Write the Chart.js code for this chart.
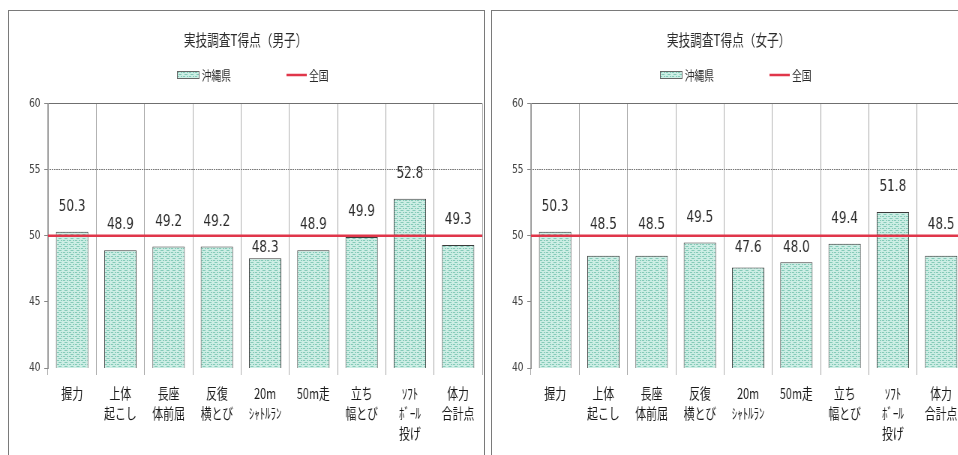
<!DOCTYPE html>
<html lang="ja">
<head>
<meta charset="utf-8">
<script src="https://cdn.jsdelivr.net/npm/chart.js@4.4.1/dist/chart.umd.min.js"></script>
<style>
  html, body { margin: 0; padding: 0; background: #fff; overflow: hidden; }
  body { width: 958px; height: 455px; position: relative; }
  .panel { position: absolute; top: 10px; height: 470px; border: 1px solid #7a7a7a; overflow: hidden; background: #fff; }
  #boysPanel { left: 8px; width: 475px; }
  #girlsPanel { left: 491px; width: 500px; }
  .panel canvas { position: absolute; left: 0; top: 0; transform: scaleX(0.75); transform-origin: 0 0; }
</style>
</head>
<body>
<div class="panel" id="boysPanel"><canvas id="boysChart" width="632" height="450"></canvas></div>
<div class="panel" id="girlsPanel"><canvas id="girlsChart" width="632" height="450"></canvas></div>
<script>
const categories = [
    ['握力'], ['上体', '起こし'], ['長座', '体前屈'], ['反復', '横とび'],
    ['20m', 'ｼｬﾄﾙﾗﾝ'], ['50m走'], ['立ち', '幅とび'], ['ｿﾌﾄ', 'ﾎﾞｰﾙ', '投げ'], ['体力', '合計点']
];
const boysScores = [50.3, 48.9, 49.2, 49.2, 48.3, 48.9, 49.9, 52.8, 49.3];
const girlsScores = [50.3, 48.5, 48.5, 49.5, 47.6, 48.0, 49.4, 51.8, 48.5];
const nationalScores = [50, 50, 50, 50, 50, 50, 50, 50, 50];
const yTicks = [40, 45, 50, 55, 60];
const seriesNames = ['沖縄県', '全国'];

const colors = {
    barBase: '#cdeee5',
    barDash: '#84cab8',
    barBorder: '#3a3a3a',
    national: '#e0364a',
    grid: '#a9a9a9',
    text: '#2a2a2a'
};

function makeBarPattern() {
    const c = document.createElement('canvas');
    c.width = 8; c.height = 4;
    const g = c.getContext('2d');
    g.fillStyle = colors.barBase;
    g.fillRect(0, 0, 8, 4);
    g.fillStyle = colors.barDash;
    g.fillRect(0, 1, 3, 1);
    g.fillRect(5, 1, 2, 1);
    g.fillRect(2, 3, 4, 1);
    return g.createPattern(c, 'repeat');
}

function makeDotPattern() {
    const c = document.createElement('canvas');
    c.width = 3; c.height = 1;
    const g = c.getContext('2d');
    g.fillStyle = '#777';
    g.fillRect(0, 0, 2, 1);
    return g.createPattern(c, 'repeat');
}

const barPattern = makeBarPattern();
const dotPattern = makeDotPattern();

// value labels sit above each bar, moved off the national line when they would touch it
const valueLabels = {
    id: 'valueLabels',
    afterDatasetsDraw(chart) {
        const meta = chart.getDatasetMeta(0);
        const values = chart.data.datasets[0].data;
        const lineY = chart.scales.y.getPixelForValue(nationalScores[0]);
        const ctx = chart.ctx;
        ctx.save();
        ctx.font = '16px "DejaVu Sans"';
        ctx.fillStyle = colors.text;
        ctx.textAlign = 'center';
        ctx.textBaseline = 'middle';
        meta.data.forEach((bar, i) => {
            let ty = bar.y - 25;
            if (ty > lineY - 4.5 && ty < lineY + 12) ty = lineY + 12;
            else if (ty > lineY - 11 && ty <= lineY - 4.5) ty = lineY - 11;
            ctx.fillText(values[i].toFixed(1), bar.x, ty);
        });
        ctx.restore();
    }
};

const legendRow = {
    id: 'legendRow',
    afterDraw(chart) {
        const ctx = chart.ctx;
        const y = 64;
        ctx.save();
        ctx.font = '13px "Noto Sans CJK JP"';
        const w1 = ctx.measureText(seriesNames[0]).width;
        const w2 = ctx.measureText(seriesNames[1]).width;
        const total = 30 + 3 + w1 + 74 + 27 + 3 + w2;
        let x = chart.width / 2 + 9 - total / 2;
        ctx.fillStyle = barPattern;
        ctx.fillRect(x, y - 4, 30, 8);
        ctx.strokeStyle = '#666';
        ctx.lineWidth = 1;
        ctx.strokeRect(x + 0.5, y - 3.5, 29, 7);
        x += 33;
        ctx.fillStyle = colors.text;
        ctx.textBaseline = 'middle';
        ctx.fillText(seriesNames[0], x, y);
        x += w1 + 74;
        ctx.strokeStyle = colors.national;
        ctx.lineWidth = 2.5;
        ctx.beginPath();
        ctx.moveTo(x, y);
        ctx.lineTo(x + 27, y);
        ctx.stroke();
        x += 30;
        ctx.fillText(seriesNames[1], x, y);
        ctx.restore();
    }
};

function makeChart(canvasId, titleText, scores) {
    return new Chart(document.getElementById(canvasId), {
        type: 'bar',
        data: {
            labels: categories,
            datasets: [{
                label: seriesNames[0],
                data: scores,
                xAxisID: 'x',
                backgroundColor: barPattern,
                borderColor: colors.barBorder,
                borderWidth: 1,
                barPercentage: 0.67,
                categoryPercentage: 1,
                grouped: false,
                order: 1
            }, {
                type: 'line',
                label: seriesNames[1],
                data: nationalScores,
                xAxisID: 'x2',
                borderColor: colors.national,
                borderWidth: 2.5,
                pointRadius: 0,
                fill: false,
                order: 0
            }]
        },
        options: {
            responsive: false,
            animation: false,
            devicePixelRatio: 1,
            layout: { padding: { left: 0, right: 1, top: 0, bottom: 0 } },
            plugins: {
                legend: { display: false },
                tooltip: { enabled: false },
                title: {
                    display: true,
                    text: titleText,
                    color: colors.text,
                    font: { family: 'Noto Sans CJK JP', size: 15.5, weight: 'normal', lineHeight: 1.2 },
                    padding: { top: 20, bottom: 54 }
                }
            },
            scales: {
                x: {
                    offset: true,
                    grid: { color: colors.grid, tickLength: 7, offset: true },
                    border: { display: false },
                    ticks: {
                        color: '#1a1a1a',
                        padding: 8,
                        maxRotation: 0,
                        autoSkip: false,
                        font: { family: 'Noto Sans CJK JP', size: 14.5, lineHeight: '20px' }
                    },
                    afterFit: s => { s.height = 93; }
                },
                x2: {
                    type: 'category',
                    labels: categories,
                    offset: false,
                    display: false
                },
                y: {
                    min: 40,
                    max: 60,
                    afterBuildTicks: s => { s.ticks = yTicks.map(v => ({ value: v })); },
                    grid: {
                        color: c => c.tick && c.tick.value === 60 ? '#6f6f6f'
                            : c.tick && c.tick.value === 55 ? dotPattern : 'rgba(0,0,0,0)',
                        tickColor: '#888',
                        tickLength: 5
                    },
                    border: { display: true, color: '#999' },
                    ticks: {
                        color: '#444',
                        padding: 5,
                        font: { family: 'DejaVu Sans', size: 12 }
                    },
                    afterFit: s => { s.width = 52; }
                }
            }
        },
        plugins: [valueLabels, legendRow]
    });
}

makeChart('boysChart', '実技調査T得点（男子）', boysScores);
makeChart('girlsChart', '実技調査T得点（女子）', girlsScores);
</script>
</body>
</html>
